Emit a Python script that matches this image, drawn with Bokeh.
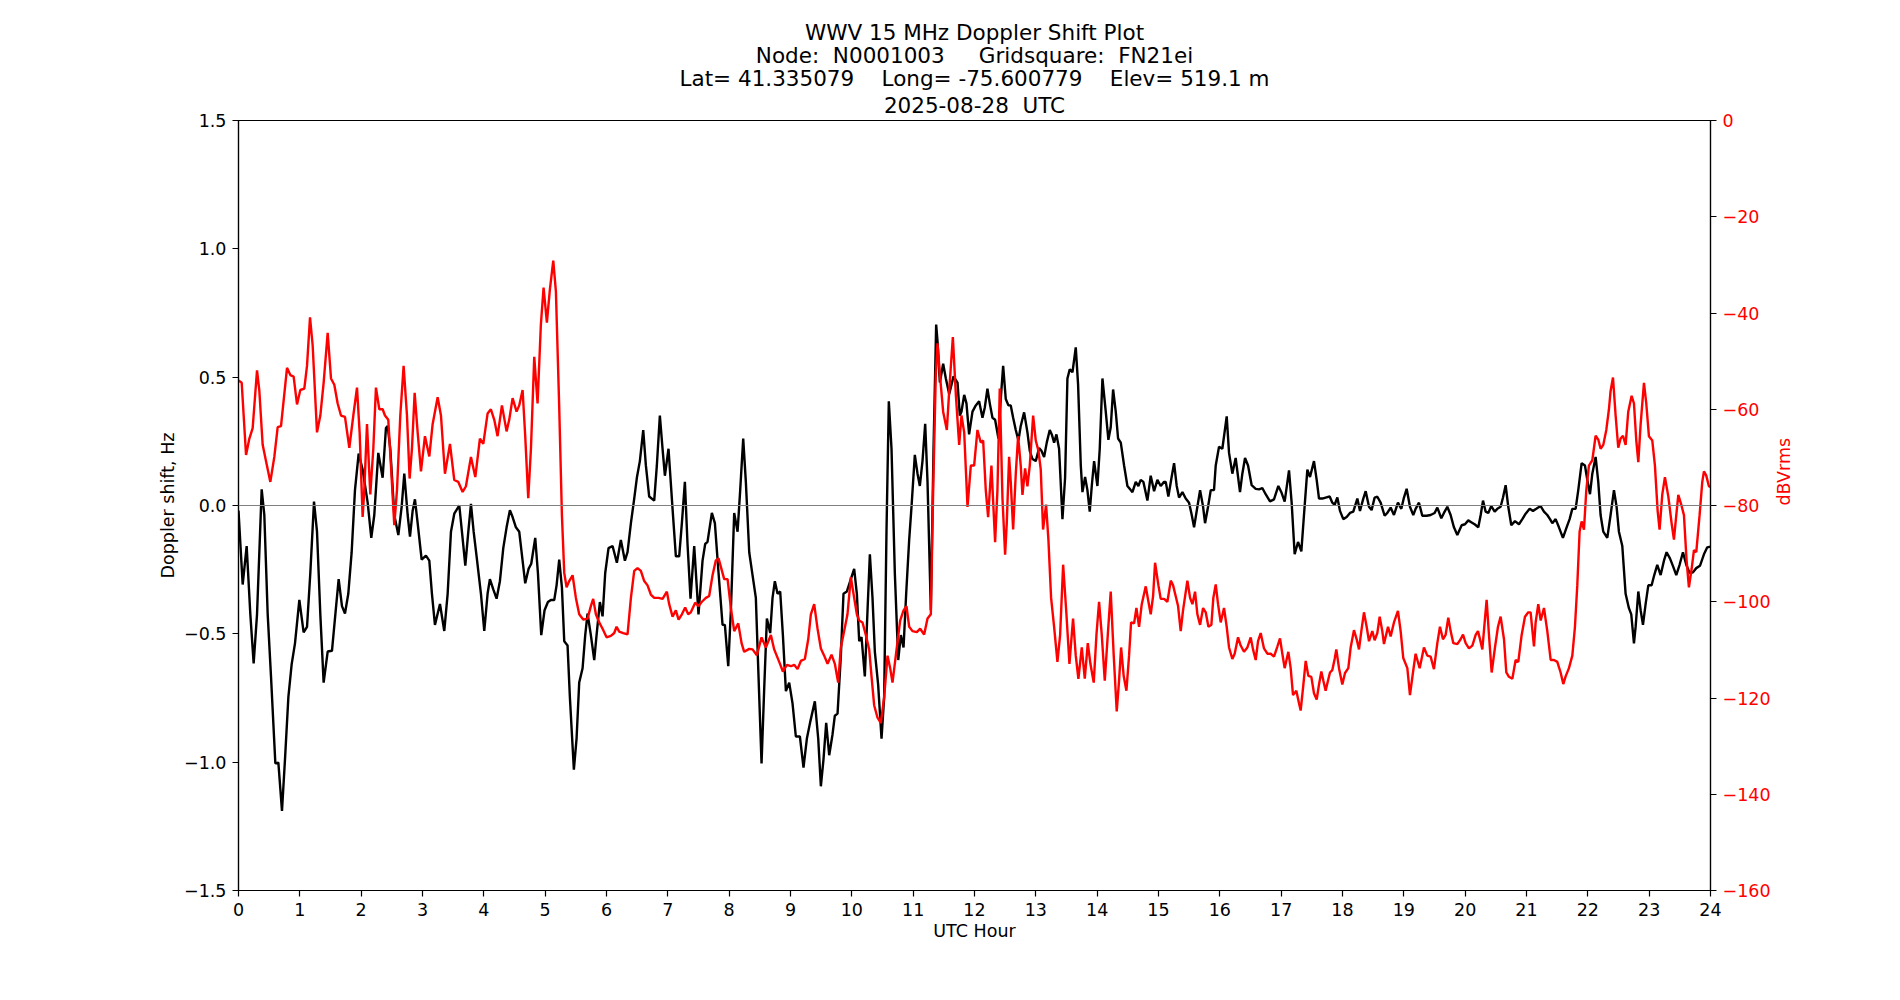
import math

from bokeh.plotting import figure
from bokeh.models import Range1d, LinearAxis, FixedTicker, CustomJSTickFormatter, Span, Title
from bokeh.embed import file_html
from bokeh.resources import INLINE

# Doppler shift (Hz) versus UTC hour
doppler_hour = [
    0.0, 0.068, 0.133, 0.193, 0.247, 0.302, 0.378, 0.421, 0.476, 0.530, 0.601, 0.650, 0.709, 0.758,
    0.813, 0.867, 0.921, 0.992, 1.062, 1.117, 1.171, 1.231, 1.280, 1.334, 1.388, 1.454, 1.524, 1.579,
    1.633, 1.687, 1.736, 1.790, 1.845, 1.899, 1.959, 2.024, 2.106, 2.165, 2.214, 2.279, 2.350, 2.404,
    2.432, 2.475, 2.540, 2.606, 2.660, 2.703, 2.758, 2.796, 2.839, 2.877, 2.921, 2.986, 3.056, 3.111,
    3.154, 3.203, 3.285, 3.355, 3.410, 3.464, 3.518, 3.600, 3.643, 3.698, 3.747, 3.790, 3.834, 3.882,
    3.953, 4.007, 4.061, 4.099, 4.154, 4.208, 4.262, 4.317, 4.371, 4.425, 4.469, 4.523, 4.577, 4.632,
    4.675, 4.729, 4.773, 4.838, 4.882, 4.936, 4.990, 5.045, 5.093, 5.148, 5.186, 5.229, 5.273, 5.311,
    5.365, 5.403, 5.468, 5.512, 5.555, 5.610, 5.653, 5.691, 5.745, 5.800, 5.838, 5.892, 5.936, 5.979,
    6.033, 6.099, 6.169, 6.234, 6.300, 6.343, 6.398, 6.452, 6.495, 6.544, 6.599, 6.642, 6.696, 6.778,
    6.821, 6.870, 6.914, 6.952, 7.011, 7.077, 7.131, 7.185, 7.229, 7.278, 7.321, 7.370, 7.430, 7.500,
    7.566, 7.609, 7.647, 7.718, 7.767, 7.827,
    7.892, 7.930, 7.985, 8.028, 8.082, 8.137, 8.180, 8.229, 8.272, 8.327, 8.381, 8.435, 8.474, 8.528,
    8.571, 8.615, 8.669, 8.707, 8.745, 8.789, 8.832, 8.876, 8.925, 8.979, 9.033, 9.087, 9.153, 9.212,
    9.267, 9.321, 9.397, 9.452, 9.495, 9.538, 9.582, 9.631, 9.685, 9.723, 9.767, 9.821, 9.864, 9.919,
    9.984, 10.038, 10.082, 10.120, 10.158, 10.212, 10.256, 10.294, 10.337, 10.375, 10.429, 10.484,
    10.527, 10.565, 10.603, 10.647, 10.701, 10.756, 10.799, 10.843, 10.886, 10.935, 10.973, 11.027,
    11.071, 11.109, 11.152, 11.196, 11.234, 11.288, 11.332, 11.375, 11.397, 11.435, 11.489, 11.533,
    11.587, 11.658, 11.723, 11.761, 11.788, 11.832, 11.869,
    11.912, 11.967, 12.021, 12.075, 12.130, 12.168, 12.211, 12.249, 12.293, 12.336, 12.390, 12.428,
    12.467, 12.510, 12.553, 12.591, 12.630, 12.673, 12.716, 12.754, 12.809, 12.863, 12.901, 12.945,
    12.999, 13.053, 13.091, 13.135, 13.178, 13.227, 13.260, 13.298, 13.336, 13.379, 13.434, 13.477,
    13.515, 13.553, 13.597, 13.651, 13.689, 13.733, 13.760, 13.803, 13.841, 13.879, 13.912, 13.950,
    14.004, 14.042, 14.086, 14.140, 14.183, 14.221, 14.260, 14.303, 14.341, 14.385, 14.439, 14.493,
    14.547, 14.575, 14.629, 14.672, 14.710, 14.754, 14.819, 14.873, 14.928, 14.982, 15.036, 15.091,
    15.118, 15.161, 15.210, 15.254, 15.297, 15.335, 15.390, 15.444, 15.498, 15.542, 15.580, 15.634,
    15.678, 15.727, 15.759, 15.808, 15.852,
    15.905, 15.933, 15.987, 16.041, 16.112, 16.150, 16.204, 16.258, 16.329, 16.367, 16.411, 16.460,
    16.519, 16.585, 16.639, 16.693, 16.747, 16.818, 16.883, 16.954, 17.003, 17.057, 17.128, 17.171,
    17.220, 17.275, 17.329, 17.372, 17.427, 17.470, 17.535, 17.579, 17.617, 17.671, 17.725, 17.791,
    17.834, 17.872, 17.916, 17.959, 18.013, 18.068, 18.122, 18.176, 18.242, 18.285, 18.339, 18.378,
    18.432, 18.475, 18.524, 18.568, 18.622, 18.687, 18.731, 18.785, 18.839, 18.904, 18.959, 19.002,
    19.046, 19.100, 19.154, 19.192, 19.247, 19.301, 19.372, 19.437, 19.502, 19.546, 19.611, 19.654,
    19.709, 19.763, 19.817, 19.872,
    19.943, 19.997, 20.051, 20.106, 20.160, 20.214, 20.253, 20.291, 20.334, 20.377, 20.426, 20.481,
    20.524, 20.578, 20.617, 20.660, 20.703, 20.752, 20.812, 20.877, 20.932, 20.986, 21.051, 21.106,
    21.160, 21.230, 21.285, 21.339, 21.383, 21.421, 21.475, 21.529, 21.594, 21.654, 21.703, 21.747,
    21.801, 21.844, 21.899, 21.953, 21.991, 22.035, 22.073, 22.127, 22.170, 22.208, 22.252, 22.317,
    22.371, 22.426, 22.469, 22.507, 22.562, 22.616, 22.670, 22.708, 22.752, 22.779, 22.823, 22.861,
    22.899, 22.942, 22.986, 23.040, 23.083, 23.132, 23.187, 23.241, 23.284, 23.339, 23.393, 23.442,
    23.496, 23.551, 23.605, 23.659, 23.714, 23.768, 23.828, 23.893, 23.947, 24.0,
]
doppler_hz = [
    -0.02, -0.308, -0.158, -0.424, -0.615, -0.424, 0.063, -0.037, -0.424, -0.666, -1.005, -1.002, -1.190, -0.989,
    -0.747, -0.618, -0.537, -0.368, -0.494, -0.473, -0.263, 0.015, -0.102, -0.424, -0.690, -0.569, -0.566, -0.424,
    -0.287, -0.392, -0.421, -0.344, -0.182, 0.060, 0.202, 0.140, 0.011, -0.126, -0.037, 0.205, 0.108, 0.302,
    0.310, 0.221, -0.037, -0.115, -0.005, 0.124, -0.037, -0.121, -0.021, 0.024, -0.069, -0.211, -0.195, -0.215,
    -0.344, -0.465, -0.384, -0.489, -0.344, -0.102, -0.032, 0.0, -0.102, -0.234, -0.102, 0.006, -0.102, -0.198,
    -0.344, -0.489, -0.344, -0.287, -0.327, -0.363, -0.295, -0.166, -0.085, -0.018, -0.045, -0.085, -0.102, -0.215,
    -0.303, -0.247, -0.227, -0.126, -0.263, -0.505, -0.408, -0.376, -0.368, -0.368, -0.311, -0.211, -0.319, -0.529,
    -0.545, -0.747, -1.029, -0.908, -0.690, -0.634, -0.505, -0.421, -0.505, -0.602, -0.505, -0.376, -0.432, -0.263,
    -0.166, -0.158, -0.223, -0.134, -0.215, -0.182, -0.069, 0.027, 0.108, 0.173, 0.294, 0.156, 0.035, 0.019,
    0.156, 0.350, 0.221, 0.116, 0.221, -0.013, -0.198, -0.198, -0.069, 0.092, -0.150, -0.363, -0.158, -0.424,
    -0.215, -0.150, -0.142, -0.029, -0.069, -0.263,
    -0.465, -0.465, -0.626, -0.408, -0.029, -0.102, 0.060, 0.261, 0.092, -0.182, -0.271, -0.360, -0.634, -1.005,
    -0.715, -0.440, -0.497, -0.360, -0.295, -0.344, -0.335, -0.505, -0.723, -0.690, -0.771, -0.900, -0.900, -1.021,
    -0.908, -0.844, -0.763, -0.908, -1.094, -0.989, -0.847, -0.973, -0.892, -0.819, -0.811, -0.585, -0.344, -0.335,
    -0.287, -0.247, -0.344, -0.529, -0.513, -0.666, -0.408, -0.190, -0.360, -0.569, -0.698, -0.908,
    -0.747, -0.102, 0.406, 0.221, -0.263, -0.602, -0.505, -0.553, -0.344, -0.134, -0.005, 0.197,
    0.124, 0.076, 0.173, 0.318, 0.092, -0.408, 0.221, 0.705, 0.640, 0.479, 0.552, 0.495,
    0.434, 0.503, 0.479, 0.350, 0.366, 0.431, 0.398,
    0.277, 0.366, 0.390, 0.406, 0.342, 0.382, 0.455, 0.398, 0.342, 0.334, 0.261, 0.415,
    0.544, 0.415, 0.390, 0.390, 0.342, 0.294, 0.253, 0.310, 0.363, 0.285, 0.213, 0.181,
    0.173, 0.224, 0.213, 0.189, 0.245, 0.294, 0.277, 0.245, 0.277, 0.221, -0.053, 0.108,
    0.495, 0.531, 0.519, 0.616, 0.471, 0.156, 0.052, 0.111, 0.060, -0.024, 0.076, 0.173,
    0.076, 0.221, 0.495, 0.366, 0.256, 0.305, 0.452, 0.366, 0.261, 0.245, 0.156, 0.076,
    0.060, 0.052, 0.092, 0.076, 0.100, 0.092, 0.019, 0.116, 0.056, 0.100, 0.076, 0.092,
    0.092, 0.035, 0.105, 0.165, 0.076, 0.031, 0.052, 0.027, 0.011, -0.037, -0.085, -0.005,
    0.060, -0.005, -0.069, -0.005, 0.060,
    0.060, 0.156, 0.229, 0.221, 0.347, 0.205, 0.124, 0.185, 0.052, 0.124, 0.185, 0.156,
    0.079, 0.065, 0.063, 0.068, 0.044, 0.016, 0.024, 0.076, 0.052, 0.015, 0.137, 0.011,
    -0.190, -0.142, -0.179, -0.037, 0.140, 0.111, 0.173, 0.100, 0.027, 0.027, 0.031, 0.035,
    0.011, 0.003, 0.031, -0.021, -0.053, -0.045, -0.029, -0.024, 0.027, -0.021, 0.027, 0.056,
    -0.005, -0.018, 0.031, 0.034, 0.011, -0.040, -0.029, -0.008, -0.037, 0.011, -0.013, 0.031,
    0.065, -0.005, -0.037, -0.013, 0.011, -0.040, -0.040, -0.037, -0.029, -0.008, -0.050, -0.029,
    -0.005, -0.037, -0.085, -0.115,
    -0.077, -0.073, -0.058, -0.066, -0.074, -0.085, -0.037, 0.019, -0.024, -0.029, -0.002, -0.024,
    -0.013, -0.005, 0.031, 0.079, -0.005, -0.077, -0.061, -0.073, -0.053, -0.032, -0.013, -0.021,
    -0.013, -0.002, -0.024, -0.037, -0.053, -0.069, -0.053, -0.085, -0.126, -0.085, -0.053, -0.013,
    -0.013, 0.060, 0.165, 0.156, 0.100, 0.044, 0.124, 0.189, 0.092, -0.037, -0.102, -0.126,
    -0.037, 0.060, -0.005, -0.102, -0.158, -0.344, -0.400, -0.424, -0.537, -0.473, -0.335, -0.408,
    -0.465, -0.384, -0.311, -0.311, -0.271, -0.231, -0.271, -0.215, -0.182, -0.206, -0.239, -0.271,
    -0.231, -0.182, -0.231, -0.263, -0.260, -0.244, -0.235, -0.190, -0.163, -0.160,
]

# Received signal level (dBVrms) versus UTC hour
power_hour = [
    0.0, 0.052, 0.123, 0.177, 0.231, 0.302, 0.340, 0.394, 0.449, 0.519, 0.584, 0.639, 0.693, 0.791,
    0.845, 0.899, 0.954, 1.008, 1.073, 1.117, 1.166, 1.209, 1.280, 1.334, 1.388, 1.454, 1.508, 1.562,
    1.617, 1.671, 1.736, 1.807, 1.872, 1.932, 1.975, 2.024, 2.051, 2.095, 2.149, 2.198, 2.241, 2.296,
    2.350, 2.388, 2.442, 2.486, 2.540, 2.584, 2.638, 2.692, 2.747, 2.790, 2.828, 2.872, 2.921, 2.975,
    3.040, 3.111, 3.165, 3.247, 3.301, 3.366, 3.448, 3.518, 3.584, 3.654, 3.708, 3.790, 3.861,
    3.936, 3.991, 4.061, 4.115, 4.170, 4.224, 4.295, 4.371, 4.414, 4.469, 4.534, 4.577, 4.632, 4.675,
    4.724, 4.768, 4.822, 4.876, 4.930, 4.974, 5.028, 5.077, 5.132, 5.175, 5.229, 5.273, 5.311, 5.349,
    5.392, 5.447, 5.501, 5.555, 5.620, 5.691, 5.745, 5.783, 5.827, 5.881, 5.936, 6.001, 6.071, 6.126,
    6.164, 6.207, 6.273, 6.343, 6.398, 6.452, 6.506, 6.560, 6.615, 6.669, 6.723, 6.778, 6.849, 6.914,
    6.984, 7.022, 7.077, 7.131, 7.175, 7.229, 7.283, 7.332, 7.375, 7.446, 7.500, 7.555, 7.620, 7.674,
    7.729, 7.783, 7.827,
    7.919, 7.974, 8.028, 8.082, 8.148, 8.202, 8.245, 8.327, 8.381, 8.452, 8.528, 8.598, 8.680, 8.734,
    8.816, 8.876, 8.941, 9.006, 9.060, 9.115, 9.169, 9.234, 9.289, 9.332, 9.386, 9.441, 9.495, 9.549,
    9.604, 9.669, 9.723, 9.777, 9.821, 9.875, 9.929, 9.984, 10.027, 10.082, 10.120, 10.174, 10.228,
    10.283, 10.321, 10.364, 10.419, 10.473, 10.527, 10.582, 10.625, 10.663, 10.717, 10.788, 10.843,
    10.891, 10.935, 10.989, 11.060, 11.114, 11.179, 11.234, 11.288, 11.326, 11.369, 11.397, 11.435,
    11.489, 11.549, 11.592, 11.647, 11.696, 11.750, 11.788, 11.832, 11.886,
    11.940, 11.994, 12.048, 12.102, 12.141, 12.184, 12.222, 12.276, 12.336, 12.374, 12.412, 12.456,
    12.499, 12.526, 12.564, 12.591, 12.630, 12.673, 12.711, 12.754, 12.782, 12.825, 12.863, 12.901,
    12.956, 12.999, 13.042, 13.080, 13.118, 13.167, 13.205, 13.249, 13.298, 13.352, 13.396, 13.445,
    13.499, 13.548, 13.607, 13.651, 13.694, 13.749, 13.798, 13.847, 13.890, 13.944, 13.988, 14.031,
    14.075, 14.124, 14.173, 14.221, 14.270, 14.319, 14.357, 14.390, 14.433, 14.477, 14.520, 14.553,
    14.602, 14.640, 14.683, 14.727, 14.792, 14.836, 14.873, 14.912, 14.944, 14.999, 15.036, 15.091,
    15.145, 15.200, 15.238, 15.270, 15.319, 15.362, 15.400, 15.471, 15.515, 15.553, 15.596, 15.634,
    15.678, 15.727, 15.770, 15.814, 15.862,
    15.894, 15.933, 15.971, 16.014, 16.068, 16.112, 16.150, 16.204, 16.242, 16.297, 16.340, 16.394,
    16.449, 16.503, 16.541, 16.585, 16.623, 16.666, 16.720, 16.775, 16.829, 16.883, 16.938, 16.981,
    17.019, 17.057, 17.117, 17.155, 17.193, 17.247, 17.291, 17.318, 17.362, 17.400, 17.443, 17.492,
    17.535, 17.579, 17.617, 17.655, 17.688, 17.725, 17.763, 17.796, 17.834, 17.872, 17.899, 17.943,
    17.997, 18.041, 18.095, 18.133, 18.187, 18.231, 18.269, 18.307, 18.350, 18.394, 18.432, 18.486,
    18.524, 18.568, 18.606, 18.649, 18.676, 18.742, 18.785, 18.839, 18.904, 18.948, 18.991, 19.057,
    19.100, 19.149, 19.192, 19.258, 19.328, 19.383, 19.437, 19.491, 19.546, 19.589, 19.638, 19.681,
    19.725, 19.763, 19.807, 19.872,
    19.926, 19.965, 20.008, 20.062, 20.117, 20.171, 20.209, 20.242, 20.280, 20.323, 20.350, 20.388,
    20.432, 20.486, 20.535, 20.578, 20.633, 20.671, 20.714, 20.769, 20.823, 20.866, 20.921, 20.975,
    21.029, 21.067, 21.122, 21.149, 21.192, 21.231, 21.285, 21.339, 21.394, 21.448, 21.502, 21.556,
    21.600, 21.638, 21.692, 21.747, 21.790, 21.828, 21.866, 21.899, 21.937, 21.975, 22.018, 22.073,
    22.127, 22.170, 22.208, 22.252, 22.301, 22.344, 22.371, 22.410, 22.453, 22.496, 22.534, 22.573,
    22.616, 22.659, 22.714, 22.752, 22.790, 22.823, 22.861, 22.915, 22.953, 22.996, 23.051, 23.094,
    23.138, 23.170, 23.214, 23.257, 23.312, 23.366, 23.404, 23.442, 23.475, 23.523, 23.567, 23.610,
    23.648, 23.692, 23.730, 23.768, 23.822, 23.866, 23.893, 23.931, 23.974, 24.0,
]
power_db = [
    -54.0, -54.5, -69.5, -66.1, -63.9, -51.9, -56.2, -67.4, -70.8, -75.1, -69.9, -63.7, -63.5, -51.4,
    -52.9, -53.2, -59.0, -56.0, -55.7, -51.0, -40.9, -46.7, -64.8, -61.3, -54.5, -44.1, -53.6, -54.9,
    -58.8, -61.3, -61.6, -68.0, -61.3, -55.5, -64.8, -82.4, -76.8, -63.1, -77.7, -68.2, -55.5, -60.0,
    -60.0, -61.3, -62.2, -71.7, -84.1, -76.8, -61.3, -51.0, -61.3, -74.4, -68.2, -56.6, -64.8, -72.9,
    -65.6, -69.8, -63.1, -57.5, -61.3, -73.4, -67.2, -74.7, -75.1, -77.2, -76.0, -69.9, -74.1,
    -66.1, -67.2, -60.9, -60.0, -62.2, -65.6, -59.2, -64.6, -62.2, -57.7, -60.5, -59.2, -56.0, -65.6,
    -78.5, -68.2, -49.1, -58.8, -42.4, -34.7, -42.0, -35.1, -29.1, -35.5, -59.6, -82.0, -94.0, -97.0,
    -95.7, -94.5, -99.2, -102.6, -103.7, -103.5, -100.9, -99.4, -102.6, -104.3, -105.6, -107.4, -107.1, -106.5,
    -105.2, -106.2, -106.5, -106.8, -99.2, -93.6, -93.0, -93.6, -95.7, -96.6, -98.5, -99.2, -99.2, -99.4,
    -97.9, -100.5, -103.1, -101.8, -103.7, -102.6, -101.2, -102.6, -102.2, -100.2, -100.9, -100.0, -99.2, -98.8,
    -94.5, -91.4, -91.0,
    -95.3, -95.3, -101.3, -106.1, -104.5, -108.6, -110.4, -109.8, -109.9, -111.1, -107.4, -109.5, -106.9, -109.9,
    -112.5, -114.5, -113.1, -113.4, -113.1, -114.0, -112.3, -111.9, -107.8, -102.6, -100.5, -105.6, -109.7, -111.2,
    -112.9, -111.0, -112.9, -116.8, -109.5, -106.1, -102.6, -94.9, -98.3, -102.6, -103.9, -104.3, -106.9,
    -109.9, -115.5, -121.5, -124.1, -125.2, -119.8, -111.2, -113.8, -116.8, -111.2, -103.9, -101.8,
    -100.9, -105.2, -106.1, -106.3, -105.6, -106.8, -103.5, -102.6, -76.8, -52.7, -46.3, -52.7,
    -60.5, -64.3, -55.3, -45.0, -57.0, -67.4, -61.3, -64.8, -80.3,
    -71.7, -71.7, -64.3, -66.9, -66.5, -76.8, -82.4, -71.7, -87.6, -76.8, -55.7, -78.5,
    -90.2, -83.7, -69.9, -75.1, -85.0, -73.4, -65.6, -71.7, -77.8, -72.3, -76.0, -71.7,
    -61.3, -66.5, -68.6, -72.5, -85.0, -79.8, -87.1, -99.2, -105.2, -112.5, -106.9, -92.3,
    -102.6, -112.9, -103.5, -111.2, -116.0, -109.5, -116.0, -108.6, -112.9, -116.8, -106.9, -100.0,
    -106.9, -116.4, -106.9, -97.9, -111.2, -122.8, -116.4, -109.5, -115.5, -118.5, -111.2, -104.3,
    -104.5, -101.3, -105.2, -100.5, -96.8, -100.0, -102.6, -98.8, -91.9, -96.6, -99.4, -99.4,
    -100.0, -95.6, -96.6, -98.3, -100.9, -106.1, -101.8, -95.6, -99.2, -100.5, -97.9, -102.6,
    -104.8, -101.3, -102.2, -105.2, -104.8,
    -99.2, -96.4, -100.5, -104.3, -101.3, -105.2, -109.5, -111.9, -110.8, -107.4, -109.1, -110.4,
    -109.5, -107.4, -109.9, -112.1, -108.2, -106.5, -109.7, -110.8, -110.8, -111.4, -109.3, -107.6,
    -110.8, -113.8, -110.4, -113.8, -119.4, -118.5, -121.1, -122.6, -117.2, -112.3, -115.4, -115.6,
    -119.0, -120.3, -117.2, -114.5, -116.4, -118.5, -116.4, -114.7, -114.2, -111.9, -109.9, -113.8,
    -117.2, -114.8, -113.8, -109.5, -105.9, -107.8, -109.9, -106.1, -102.2, -105.2, -108.2, -106.1,
    -108.0, -106.5, -103.1, -106.1, -108.8, -105.2, -107.2, -104.3, -101.9, -106.1, -111.7, -113.8,
    -119.4, -114.7, -110.8, -113.8, -109.5, -111.2, -111.4, -114.0, -108.6, -105.2, -107.8, -106.9,
    -103.3, -106.1, -108.6, -108.8,
    -107.8, -106.8, -108.6, -109.7, -109.1, -106.9, -106.1, -107.8, -109.9, -103.5, -99.6, -106.9,
    -114.7, -109.5, -105.2, -103.1, -107.8, -114.7, -115.6, -116.0, -112.1, -112.5, -106.9, -103.1,
    -102.2, -102.2, -109.3, -104.3, -100.5, -103.9, -101.3, -106.1, -112.1, -112.1, -112.5, -114.7,
    -117.1, -115.5, -113.8, -111.2, -105.2, -96.6, -85.4, -83.3, -85.0, -76.8, -71.7, -70.6,
    -65.5, -66.3, -68.2, -67.4, -64.3, -60.0, -56.2, -53.4, -61.3, -68.0, -66.1, -65.5,
    -67.4, -60.5, -57.2, -58.8, -66.5, -71.0, -63.1, -54.5, -58.8, -65.6, -66.5, -71.7,
    -81.1, -85.0, -77.7, -74.1, -78.1, -83.7, -87.1, -82.0, -77.8, -79.8, -82.0, -91.4,
    -97.0, -93.2, -89.3, -89.7, -82.0, -75.1, -72.9, -73.8, -76.0, -76.1,
]

hour_ticks = list(range(0, 25))
hz_ticks = [-1.5, -1.0, -0.5, 0.0, 0.5, 1.0, 1.5]
db_ticks = [-160, -140, -120, -100, -80, -60, -40, -20, 0]

title_lines = [
    "WWV 15 MHz Doppler Shift Plot",
    "Node:  N0001003     Gridsquare:  FN21ei",
    "Lat= 41.335079    Long= -75.600779    Elev= 519.1 m",
    "2025-08-28  UTC",
]

FONT = "DejaVu Sans"
TICK_SIZE = "17.5px"


def keep_spaces(s):
    # runs of spaces survive SVG whitespace collapsing when every other one is a no-break space
    out = []
    run = 0
    for ch in s:
        if ch == " ":
            out.append(" " if run % 2 == 0 else "\u00a0")
            run += 1
        else:
            run = 0
            out.append(ch)
    return "".join(out)


p = figure(
    width=1900, height=1000,
    output_backend="svg", toolbar_location=None,
    x_range=Range1d(0, 24), y_range=Range1d(-1.5, 1.5),
    min_border_left=238, min_border_right=190,
    min_border_top=120, min_border_bottom=110,
    background_fill_color="white", border_fill_color="white",
)
p.title = None

# stacked title lines, innermost (closest to the frame) first
for i, line in enumerate(reversed(title_lines)):
    p.add_layout(Title(
        text=keep_spaces(line), align="center",
        text_font=FONT, text_font_size="21.5px", text_font_style="normal",
        text_color="black",
        standoff=(5 if i == 0 else -4.5), offset=0,
    ), "above")

p.outline_line_color = "black"
p.outline_line_width = 1.2
p.xgrid.visible = False
p.ygrid.visible = False

p.extra_y_ranges = {"db": Range1d(-160, 0)}

minus_fmt_1 = CustomJSTickFormatter(
    code="return (tick < 0 ? '\u2212' : '') + Math.abs(tick).toFixed(1);")
minus_fmt_0 = CustomJSTickFormatter(
    code="return (tick < 0 ? '\u2212' : '') + Math.abs(tick).toFixed(0);")


def style_axis(ax, label_color="black"):
    ax.axis_line_color = "black"
    ax.axis_line_width = 1.2
    ax.major_tick_line_color = "black"
    ax.major_tick_line_width = 1.2
    ax.major_tick_out = 6
    ax.major_tick_in = 0
    ax.minor_tick_line_color = None
    ax.major_label_text_font = FONT
    ax.major_label_text_font_size = TICK_SIZE
    ax.major_label_text_color = label_color
    ax.major_label_standoff = 6
    ax.axis_label_text_font = FONT
    ax.axis_label_text_font_size = TICK_SIZE
    ax.axis_label_text_font_style = "normal"
    ax.axis_label_text_color = label_color


xax = p.xaxis[0]
style_axis(xax)
xax.ticker = FixedTicker(ticks=hour_ticks)
xax.axis_label = "UTC Hour"
xax.axis_label_standoff = 2

yax = p.yaxis[0]
style_axis(yax)
yax.ticker = FixedTicker(ticks=hz_ticks)
yax.formatter = minus_fmt_1
yax.axis_label = "Doppler shift, Hz"
yax.axis_label_standoff = 3

rax = LinearAxis(y_range_name="db")
style_axis(rax, label_color="red")
rax.ticker = FixedTicker(ticks=db_ticks)
rax.formatter = minus_fmt_0
rax.axis_label = "dBVrms"
rax.axis_label_standoff = 10
rax.axis_label_orientation = math.pi / 2
p.add_layout(rax, "right")

p.add_layout(Span(location=0, dimension="width", line_color="#808080", line_width=1.2))

p.line(doppler_hour, doppler_hz, line_color="black", line_width=2.4)
p.line(power_hour, power_db, line_color="red", line_width=2.4, y_range_name="db")

open("out.html", "w").write(file_html(p, INLINE))
